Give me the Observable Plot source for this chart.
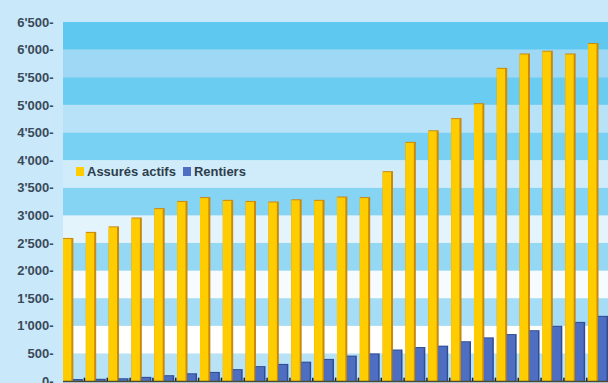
<!DOCTYPE html>
<html>
<head>
<meta charset="utf-8">
<script src="https://cdn.jsdelivr.net/npm/d3@7"></script>
<script src="https://cdn.jsdelivr.net/npm/@observablehq/plot@0.6"></script>
<style>
  html, body { margin: 0; padding: 0; background: #c9e8f9; overflow: hidden; }
  #wrap { position: relative; width: 608px; height: 383px; overflow: hidden; }
  #chart svg { display: block; max-width: none !important; }
  #legend { position: absolute; left: 76px; top: 164px; font: bold 13px "Liberation Sans", Arial, sans-serif; color: #2e3d4c; display: flex; align-items: center; white-space: nowrap; }
  #legend .sw { display: inline-block; width: 8px; height: 9px; margin-right: 3px; }
  #legend .item { display: flex; align-items: center; margin-right: 7px; }
</style>
</head>
<body>
<div id="wrap">
  <div id="chart"></div>
  <div id="legend"></div>
</div>
<script>
// ---- data ----
const groups = ["1","2","3","4","5","6","7","8","9","10","11","12","13","14","15","16","17","18","19","20","21","22","23","24"];
const assuresActifs = [2590, 2700, 2800, 2960, 3130, 3260, 3330, 3280, 3260, 3250, 3290, 3280, 3340, 3330, 3800, 4330, 4540, 4760, 5030, 5670, 5930, 5980, 5930, 6120];
const rentiers = [35, 40, 50, 75, 105, 140, 165, 215, 270, 310, 350, 400, 460, 500, 570, 615, 640, 720, 790, 850, 920, 1000, 1070, 1180];
const yTicks = [0, 500, 1000, 1500, 2000, 2500, 3000, 3500, 4000, 4500, 5000, 5500, 6000, 6500];
const seriesNames = ["Assurés actifs", "Rentiers"];

// ---- styles ----
const yellow = "#ffcc00", yellowEdge = "#c98a0c";
const blue = "#4e6fc1", blueEdge = "#2f4c94";

const rows = groups.map((g, i) => ({g, a: assuresActifs[i], r: rentiers[i]}));

const blueBand = d3.interpolateRgb("#b8e3f7", "#5ec8f0");
const lightBand = d3.interpolateRgb("#ffffff", "#9ed8f5");
const bands = yTicks.slice(0, -1).map((y1, i) => {
  const y2 = yTicks[i + 1];
  let color;
  if (i % 2 === 0) { const t = (i / 2) / 6; color = blueBand(Math.pow(t, 0.85)); }
  else { const t = ((i - 1) / 2) / 5; color = lightBand(Math.pow(t, 1.4)); }
  return {y1, y2, color};
});

const fmt = d3.formatLocale({thousands: "'", grouping: [3], decimal: ".", currency: ["", ""]}).format(",");

const chart = Plot.plot({
  width: 608,
  height: 383,
  marginLeft: 63,
  marginRight: 0,
  marginTop: 22,
  marginBottom: 2,
  style: {background: "transparent", fontFamily: "'Liberation Sans', Arial, sans-serif"},
  x: {type: "band", domain: groups, paddingInner: 0.13, paddingOuter: 0, round: false, axis: null},
  y: {domain: [0, 6500], ticks: yTicks, tickFormat: d => fmt(d) + "-", tickSize: 0, tickPadding: 10, label: null},
  color: {type: "identity"},
  marks: [
    Plot.rect(bands, {y1: "y1", y2: "y2", fill: "color"}),
    // Assurés actifs (with darker right edge for the 3D look)
    Plot.barY(rows, {x: "g", y: "a", fill: yellowEdge, insetRight: 9.5}),
    Plot.barY(rows, {x: "g", y: "a", fill: yellow, insetRight: 11.5, insetTop: 1}),
    // Rentiers
    Plot.barY(rows, {x: "g", y: "r", fill: blueEdge, insetLeft: 10}),
    Plot.barY(rows, {x: "g", y: "r", fill: blue, insetLeft: 10, insetRight: 1.5, insetTop: 1}),
    Plot.ruleY([0], {stroke: "#4a4a30", strokeWidth: 1.5}),
    Plot.ruleX(groups, {x: d => d, y1: 0, y2: 60, dx: 11, stroke: "#222", strokeWidth: 1.5})
  ]
});
const yl = chart.querySelector("g[aria-label='y-axis tick label']");
if (yl) { yl.setAttribute("font-size", "13"); yl.setAttribute("font-weight", "bold"); yl.setAttribute("fill", "#3a4a5a"); }
document.getElementById("chart").appendChild(chart);

// legend
const legend = document.getElementById("legend");
[[seriesNames[0], yellow], [seriesNames[1], blue]].forEach(([name, c]) => {
  const it = document.createElement("span");
  it.className = "item";
  const sw = document.createElement("span");
  sw.className = "sw";
  sw.style.background = c;
  it.appendChild(sw);
  it.appendChild(document.createTextNode(name));
  legend.appendChild(it);
});
</script>
</body>
</html>
